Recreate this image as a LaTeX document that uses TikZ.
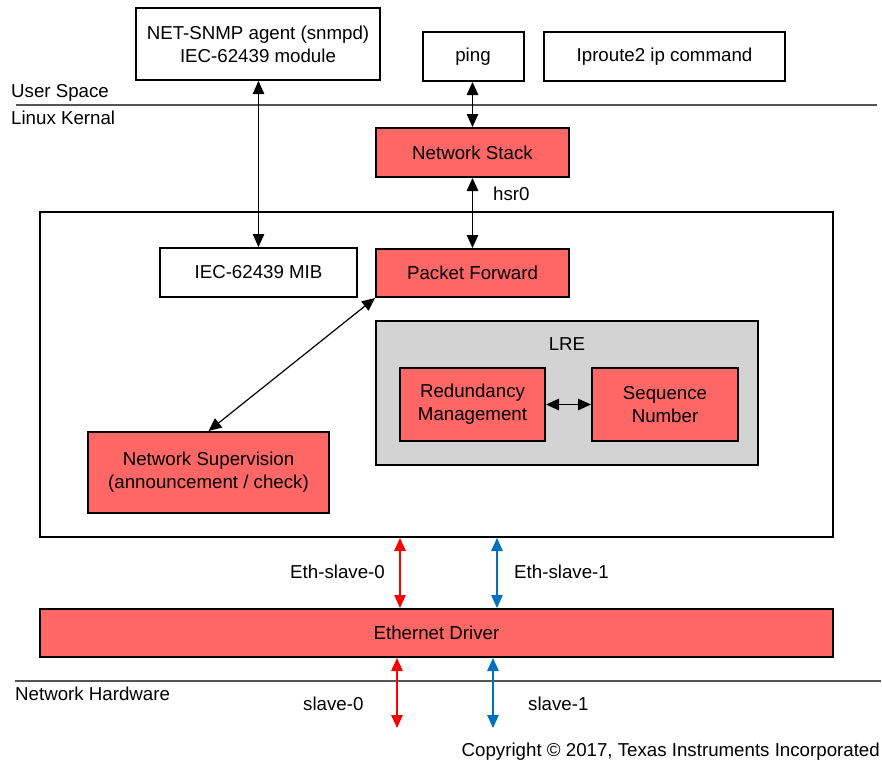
\documentclass[tikz,border=0pt]{standalone}
\usepackage{fontspec}
\setmainfont{Liberation Sans}
\usetikzlibrary{arrows.meta}
\definecolor{boxred}{RGB}{255,102,102}
\definecolor{lregray}{RGB}{211,211,211}
\definecolor{arrred}{RGB}{255,0,0}
\definecolor{arrblue}{RGB}{0,112,192}
\definecolor{sepgray}{RGB}{85,85,85}
\begin{document}
\begin{tikzpicture}[x=1pt,y=-1pt,
  font=\fontsize{18.7}{23}\selectfont,
  box/.style n args={2}{draw=black, line width=2pt, fill=white, inner sep=0pt, align=center,
    minimum width=#1, minimum height=#2},
  redbox/.style n args={2}{box={#1}{#2}, fill=boxred},
  biarrow/.style={line width=1.2pt, {Triangle[length=13pt,width=11.5pt]}-{Triangle[length=13pt,width=11.5pt]}},
  redarrow/.style={biarrow, draw=arrred, fill=arrred},
  bluearrow/.style={biarrow, draw=arrblue, fill=arrblue},
  sepline/.style={draw=sepgray, line width=1.3pt},
  lbl/.style={inner sep=0pt, anchor=base west}
]
\useasboundingbox (0,0) rectangle (882,761);

% separator lines
\coordinate (s1a) at (16,105);
\coordinate (s1b) at (877,105);
\coordinate (s2a) at (15,681);
\coordinate (s2b) at (881,681);
\draw[sepline] (s1a) -- (s1b);
\draw[sepline] (s2a) -- (s2b);

\node[lbl] (us) at (11,97) {User Space};
\node[lbl] (lk) at (11,124) {Linux Kernal};
\node[lbl] (nh) at (15,700) {Network Hardware};

% user space boxes
\node[box={244pt}{72pt}] (snmp) at (258,44) {NET-SNMP agent (snmpd)\\IEC-62439 module};
\node[box={101pt}{49pt}] (ping) at (473,56.5) {ping};
\node[box={241pt}{49pt}] (iproute) at (664.5,56.5) {Iproute2 ip command};

% kernel
\node[redbox={193pt}{49pt}] (nstack) at (472.5,152.5) {Network Stack};
\node[box={793pt}{325pt}] (big) at (436.5,374.5) {};
\node[box={197pt}{49pt}] (mib) at (258.5,272.5) {IEC-62439 MIB};
\node[redbox={193pt}{48pt}] (pf) at (472.5,273) {Packet Forward};
\node[box={382pt}{144pt}, fill=lregray] (lre) at (567,393) {};
\node[inner sep=0pt] (lrel) at (567,344) {LRE};
\node[redbox={145pt}{73pt}] (red) at (472.5,404.5) {Redundancy\\Management};
\node[redbox={146pt}{73pt}] (seq) at (665,404.5) {Sequence\\Number};
\node[redbox={241pt}{81pt}] (nsup) at (208.5,472.5) {Network Supervision\\(announcement / check)};

\node[redbox={793pt}{48pt}] (eth) at (436.5,633) {Ethernet Driver};

% connectors
\draw[biarrow] (snmp.south -| mib.north) -- (mib.north);
\draw[biarrow] (ping.south -| nstack.north) -- (nstack.north);
\draw[biarrow] (nstack.south) -- (pf.north);
\node[lbl] (hsr) at (493,200) {hsr0};
\draw[biarrow] (pf.south west) -- (nsup.north);
\draw[biarrow] (red.east) -- (seq.west);

\coordinate (r1) at (400,0);
\coordinate (b1) at (497,0);
\coordinate (r2) at (397,728);
\coordinate (b2) at (493,728);
\draw[redarrow] (big.south -| r1) -- (eth.north -| r1);
\draw[bluearrow] (big.south -| b1) -- (eth.north -| b1);
\draw[redarrow] (eth.south -| r2) -- (r2);
\draw[bluearrow] (eth.south -| b2) -- (b2);

\node[lbl] (es0) at (290,578) {Eth-slave-0};
\node[lbl] (es1) at (514,578) {Eth-slave-1};
\node[lbl] (sl0) at (303,710) {slave-0};
\node[lbl] (sl1) at (528,710) {slave-1};
\node[inner sep=0pt, anchor=base east] (copy) at (880,756) {Copyright © 2017, Texas Instruments Incorporated};
\end{tikzpicture}
\end{document}
